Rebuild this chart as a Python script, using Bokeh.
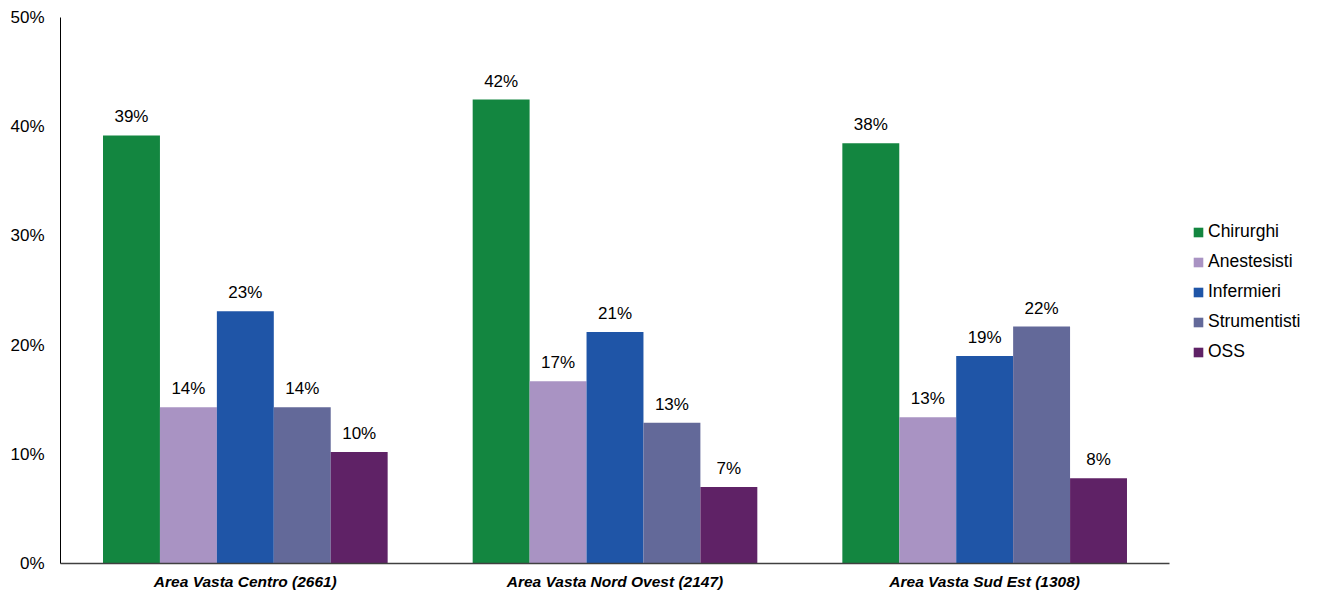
from bokeh.plotting import figure
from bokeh.models import ColumnDataSource, Range1d, Legend, LegendItem, PrintfTickFormatter, FixedTicker
from bokeh.transform import dodge
from bokeh.core.properties import value
from bokeh.embed import file_html
from bokeh.resources import INLINE

areas = ["Area Vasta Centro (2661)", "Area Vasta Nord Ovest (2147)", "Area Vasta Sud Est (1308)"]
series = ["Chirurghi", "Anestesisti", "Infermieri", "Strumentisti", "OSS"]
chirurghi = [39.2, 42.49, 38.49]
anestesisti = [14.3, 16.7, 13.4]
infermieri = [23.1, 21.2, 19.0]
strumentisti = [14.3, 12.9, 21.7]
oss = [10.2, 7.0, 7.8]
colors = ["#138640", "#A993C3", "#1F55A7", "#636999", "#5F2266"]
y_ticks = [0, 10, 20, 30, 40, 50]

values = [chirurghi, anestesisti, infermieri, strumentisti, oss]
xpos = [i + 0.5 for i in range(len(areas))]

W, H = 1317, 592
LEFT, TOP, BOTTOM = 60, 17, 29
frame_w = W - LEFT
x_end = len(areas) * frame_w / 1109.0

p = figure(x_range=Range1d(0, x_end), y_range=Range1d(0, 50), width=W, height=H,
           output_backend="svg", toolbar_location=None,
           min_border_left=LEFT, min_border_right=0, min_border_top=TOP, min_border_bottom=BOTTOM)
p.outline_line_color = None
p.xgrid.grid_line_color = None
p.ygrid.grid_line_color = None

bw = 0.154
FONT = "Liberation Sans"
items = []
for i, (name, vals, col) in enumerate(zip(series, values, colors)):
    src = ColumnDataSource(dict(x=xpos, y=vals, lab=[f"{round(v)}%" for v in vals]))
    off = (i - 2) * bw
    r = p.vbar(x=dodge("x", off), top="y", width=bw, source=src,
               fill_color=col, line_color=None)
    p.text(x=dodge("x", off), y="y", text="lab", source=src,
           text_align="center", text_baseline="bottom", y_offset=-9,
           text_font=value(FONT), text_font_size="17px", text_color="#000000")
    items.append(LegendItem(label=name, renderers=[r]))

legend = Legend(items=items, location=(1132, 201), padding=0, margin=0,
                spacing=9, glyph_width=12, glyph_height=12, label_standoff=4,
                label_text_font=FONT, label_text_font_size="17.5px", label_height=20,
                label_text_color="#000000",
                border_line_color=None, background_fill_alpha=0)
p.add_layout(legend, "center")

p.yaxis.ticker = FixedTicker(ticks=y_ticks)
p.yaxis.formatter = PrintfTickFormatter(format="%d%%")
p.yaxis.major_tick_line_color = None
p.yaxis.minor_tick_line_color = None
p.yaxis.major_tick_out = 0
p.yaxis.major_tick_in = 0
p.yaxis.major_label_text_font = FONT
p.yaxis.major_label_text_font_size = "17px"
p.yaxis.major_label_text_color = "#000000"
p.yaxis.major_label_standoff = 16
p.yaxis.axis_line_color = "#000000"

p.xaxis.ticker = FixedTicker(ticks=xpos)
p.xaxis.major_label_overrides = {x: a for x, a in zip(xpos, areas)}
p.xaxis.bounds = (0, len(areas))
p.xaxis.major_tick_line_color = None
p.xaxis.minor_tick_line_color = None
p.xaxis.major_tick_out = 0
p.xaxis.major_tick_in = 0
p.xaxis.major_label_text_font = FONT
p.xaxis.major_label_text_font_size = "15.5px"
p.xaxis.major_label_text_font_style = "bold italic"
p.xaxis.major_label_text_color = "#000000"
p.xaxis.major_label_standoff = 9
p.xaxis.axis_line_color = "#404040"
p.xaxis.axis_line_width = 1.5

open("out.html", "w").write(file_html(p, INLINE))
